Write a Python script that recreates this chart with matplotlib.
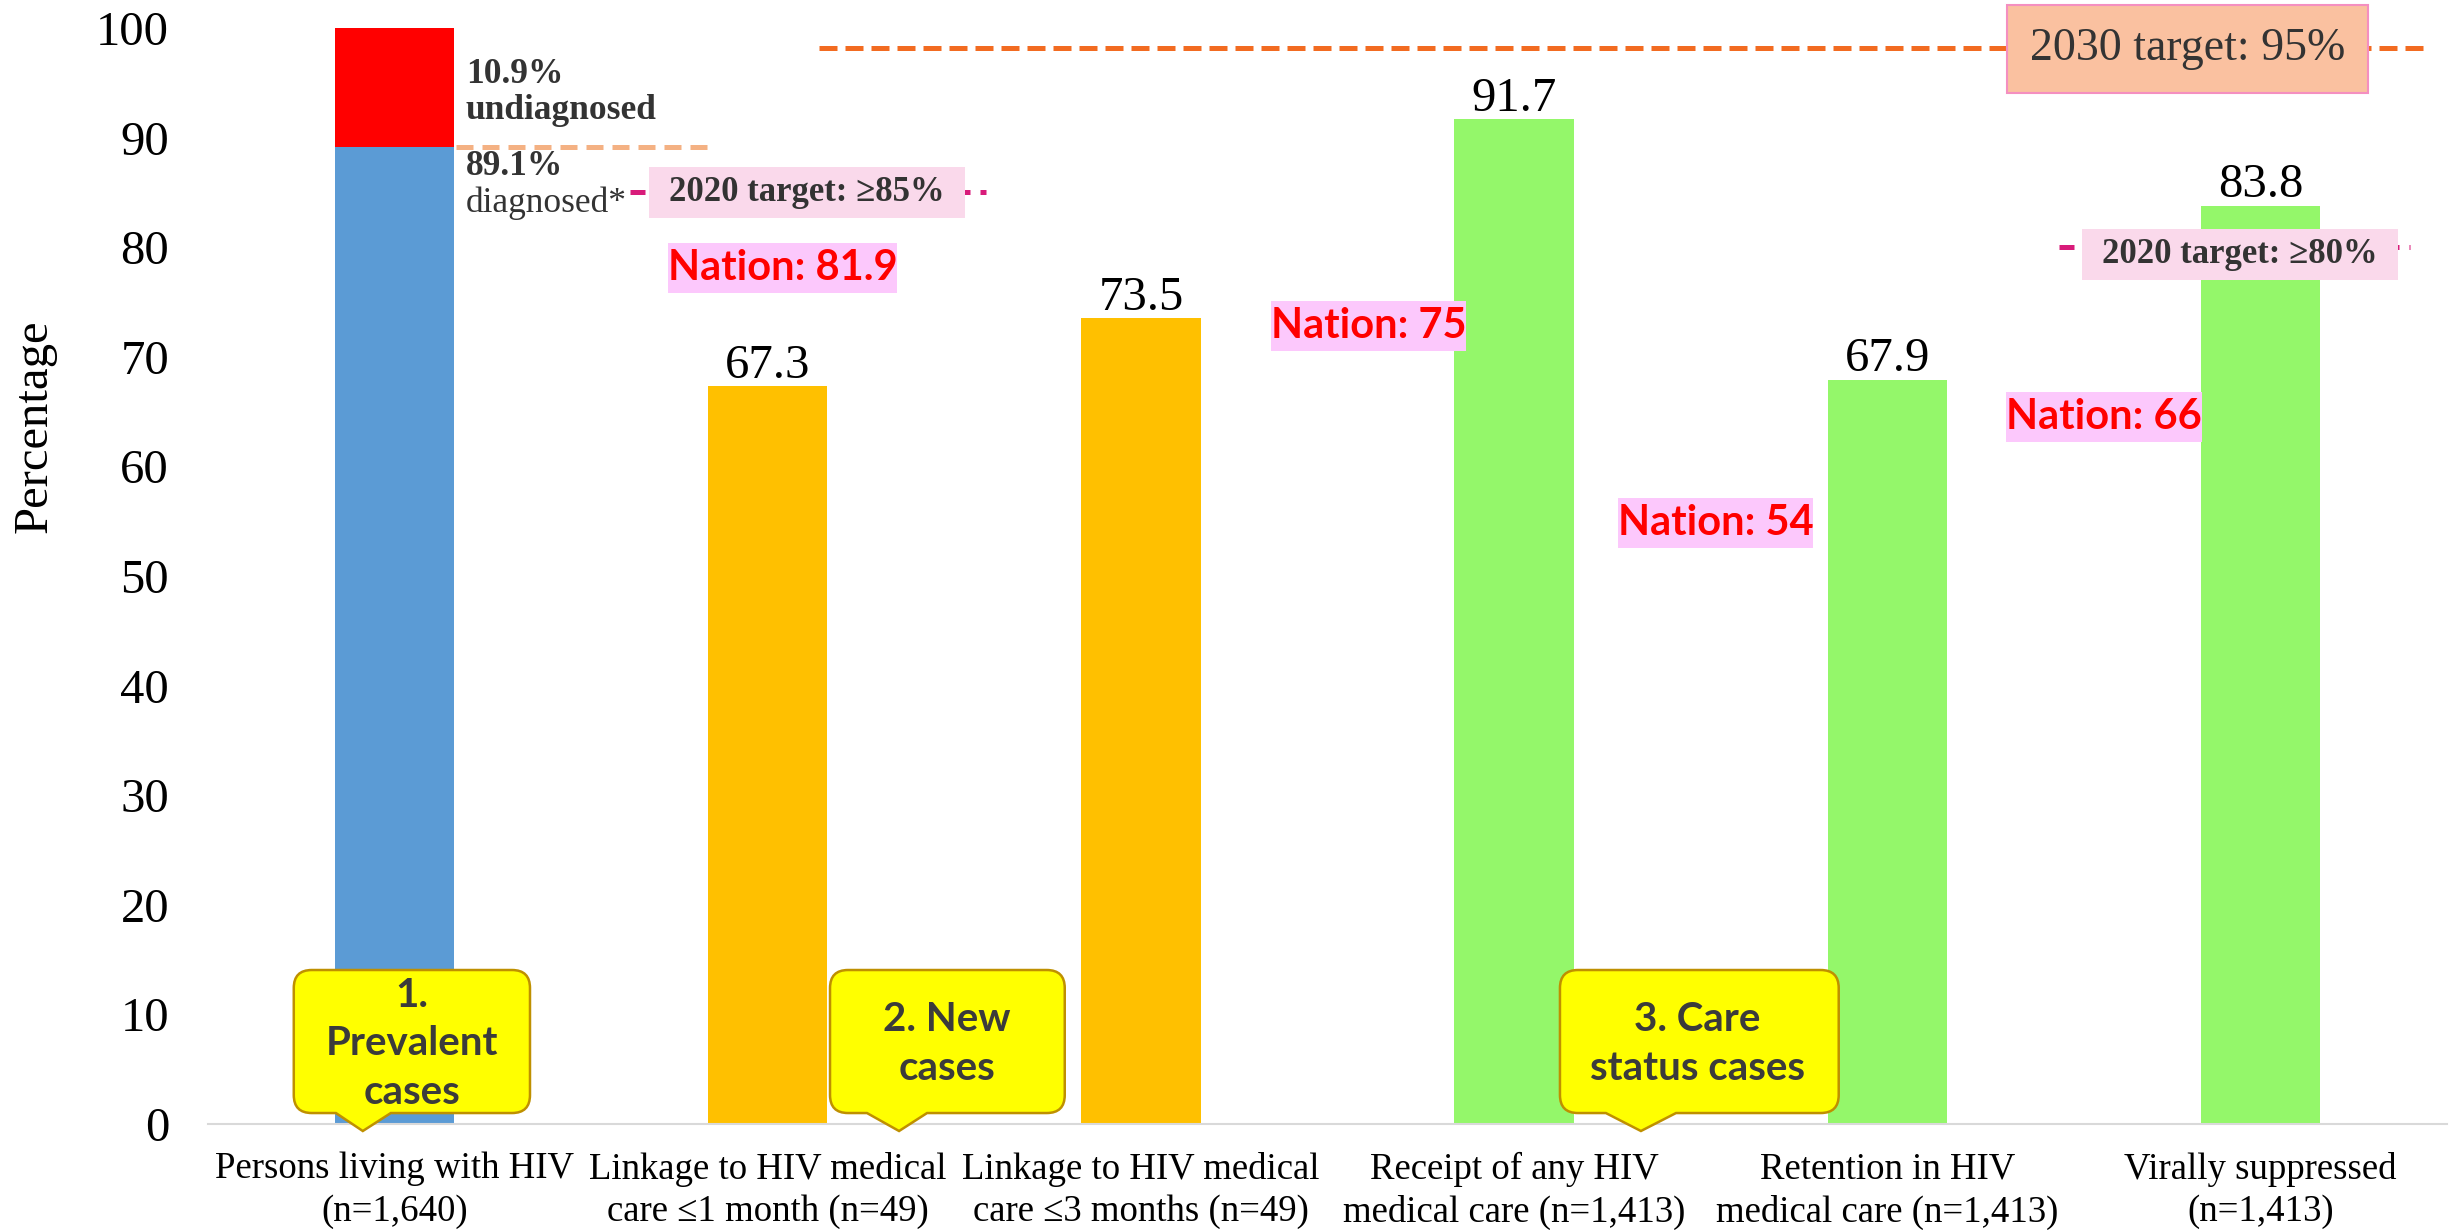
import matplotlib.pyplot as plt
import numpy as np
from matplotlib.path import Path
from matplotlib.patches import PathPatch, Rectangle

plt.rcParams['font.family'] = ['Liberation Serif', 'DejaVu Serif']

# ---- data ----
categories = ['Persons living with HIV\n(n=1,640)',
              'Linkage to HIV medical\ncare \u22641 month (n=49)',
              'Linkage to HIV medical\ncare \u22643 months (n=49)',
              'Receipt of any HIV\nmedical care (n=1,413)',
              'Retention in HIV\nmedical care (n=1,413)',
              'Virally suppressed\n(n=1,413)']
diagnosed = 89.1
undiagnosed = 10.9
values = [67.3, 73.5, 91.7, 67.9, 83.8]          # categories 2..6
bar_colors = ['#FFC000', '#FFC000', '#94F76A', '#94F76A', '#94F76A']

nation = [81.9, 75, 54, 66]
nation_xy = [(1.04, 78.1), (2.61, 72.8), (3.54, 54.8), (4.58, 64.5)]

target_2020 = [85, 80]
target_2020_span = [(0.63, 1.585), (4.46, 5.40)]
target_2020_box_xy = [(1.105, 85), (4.945, 79.3)]
target_2030 = 95
target_2030_line_y = 98.2

groups = ['1.\nPrevalent\ncases', '2. New\ncases', '3. Care\nstatus cases']
# box x0, x1, text center x, pointer base x0, x1, tip x
group_boxes = [(-0.27, 0.363, 0.047, -0.157, -0.01, -0.085),
               (1.167, 1.796, 1.48, 1.266, 1.427, 1.352),
               (3.123, 3.87, 3.492, 3.246, 3.434, 3.34)]

fig = plt.figure(figsize=(24.55, 12.3), dpi=100)
ax = fig.add_axes([0.0847, 0.08618, 0.91204, 0.89106])

x = np.arange(len(categories))
w = 0.32
ax.bar(x[0], diagnosed, w, color='#5B9BD5', zorder=2)
ax.bar(x[0], undiagnosed, w, bottom=diagnosed, color='#FF0000', zorder=2)
ax.bar(x[1:], values, w, color=bar_colors, zorder=2)

for xi, v in zip(x[1:], values):
    ax.annotate(f'{v}', (xi, v), xytext=(0, 6), textcoords='offset points',
                ha='center', va='baseline', fontsize=35, color='black')

ax.set_xlim(-0.5, len(categories) - 0.5)
ax.set_ylim(0, 100)
ax.set_yticks(np.arange(0, 101, 10))
ax.set_xticks(x)
ax.set_xticklabels(categories, fontsize=26.5, linespacing=1.3)
ax.tick_params(axis='y', length=0, pad=28, labelsize=35)
ax.tick_params(axis='x', length=0, pad=20)
for s in ['top', 'right', 'left']:
    ax.spines[s].set_visible(False)
ax.spines['bottom'].set_color('#D9D9D9')
ax.spines['bottom'].set_linewidth(1.5)
ax.set_ylabel('Percentage', fontsize=35, va='center')
ax.yaxis.set_label_coords(-0.0773, 0.637)

# bar 1 labels
dark = '#333333'
ax.text(0.191, 95.0, '10.9%', fontsize=25.5, weight='bold', color=dark, va='baseline')
ax.text(0.191, 91.7, 'undiagnosed', fontsize=25.5, weight='bold', color=dark, va='baseline')
ax.text(0.191, 86.6, '89.1%', fontsize=25.5, weight='bold', color=dark, va='baseline')
ax.text(0.191, 83.2, 'diagnosed*', fontsize=25.5, color=dark, va='baseline')
ax.plot([0.165, 0.853], [diagnosed, diagnosed], color='#F4B183', lw=3.6,
        dashes=(3.4, 1.8), zorder=3)

# 2030 target
ax.plot([1.137, 5.44], [target_2030_line_y] * 2, color='#F26B21', lw=3.6,
        dashes=(3.6, 1.6), clip_on=False, zorder=3)
ax.text(4.805, 98.1, f'2030 target: {target_2030}%', fontsize=33, color=dark,
        ha='center', va='center', zorder=6, clip_on=False,
        bbox=dict(boxstyle='square,pad=0.5', fc='#FAC1A0', ec='#F48FC0', lw=1.5))

boxed = []   # (text, pad x px, pad y px, face colour)

# 2020 targets
for t, (a, b), (bx, by) in zip(target_2020, target_2020_span, target_2020_box_xy):
    ax.plot([a, b], [t, t], color='#D81B7A', lw=3.6, dashes=(3, 2), zorder=3)
    txt = ax.text(bx, by, f'2020 target: \u2265{t}%', fontsize=25, weight='bold',
                  color=dark, ha='center', va='center', zorder=6)
    boxed.append((txt, 20, 9, '#FAD9EB'))

# national comparison
for v, (nx, ny) in zip(nation, nation_xy):
    txt = ax.text(nx, ny, f'Nation: {v:g}', fontsize=30, weight='bold', color='#FF0000',
                  family='Lato', ha='center', va='center', zorder=6)
    boxed.append((txt, 0, 6, '#FCC8FC'))

fig.canvas.draw()
renderer = fig.canvas.get_renderer()
inv = ax.transData.inverted()
for txt, px, py, fc in boxed:
    bb = txt.get_window_extent(renderer)
    (x0, y0), (x1, y1) = inv.transform([(bb.x0 - px, bb.y0 - py), (bb.x1 + px, bb.y1 + py)])
    ax.add_patch(Rectangle((x0, y0), x1 - x0, y1 - y0, fc=fc, ec='none', zorder=5.5))


# yellow callouts with a pointer on the bottom edge
def callout(x0, x1, bx0, bx1, tipx, y0=1.0, y1=14.05, tipy=-0.64, r=18):
    to_px = ax.transData.transform
    (p0, q0), (p1, q1) = to_px([(x0, y0), (x1, y1)])
    (b0, _), (b1, _), (tpx, tpy) = to_px([(bx0, y0), (bx1, y0), (tipx, tipy)])
    verts = [(p0 + r, q0), (b0, q0), (tpx, tpy), (b1, q0), (p1 - r, q0),
             (p1, q0), (p1, q0 + r), (p1, q1 - r),
             (p1, q1), (p1 - r, q1), (p0 + r, q1),
             (p0, q1), (p0, q1 - r), (p0, q0 + r),
             (p0, q0), (p0 + r, q0), (p0 + r, q0)]
    codes = [Path.MOVETO, Path.LINETO, Path.LINETO, Path.LINETO, Path.LINETO,
             Path.CURVE3, Path.CURVE3, Path.LINETO,
             Path.CURVE3, Path.CURVE3, Path.LINETO,
             Path.CURVE3, Path.CURVE3, Path.LINETO,
             Path.CURVE3, Path.CURVE3, Path.CLOSEPOLY]
    verts = ax.transData.inverted().transform(verts)
    ax.add_patch(PathPatch(Path(verts, codes), fc='#FFFF00', ec='#BF9000',
                           lw=1.8, zorder=5, clip_on=False))


for label, (x0, x1, tx, bx0, bx1, tipx) in zip(groups, group_boxes):
    callout(x0, x1, bx0, bx1, tipx)
    ax.text(tx, 7.3, label, fontsize=29, weight='bold', color='#3B3B3B',
            family='Lato', ha='center', va='center', linespacing=1.38, zorder=6)

fig.savefig('out.png', dpi=100)
